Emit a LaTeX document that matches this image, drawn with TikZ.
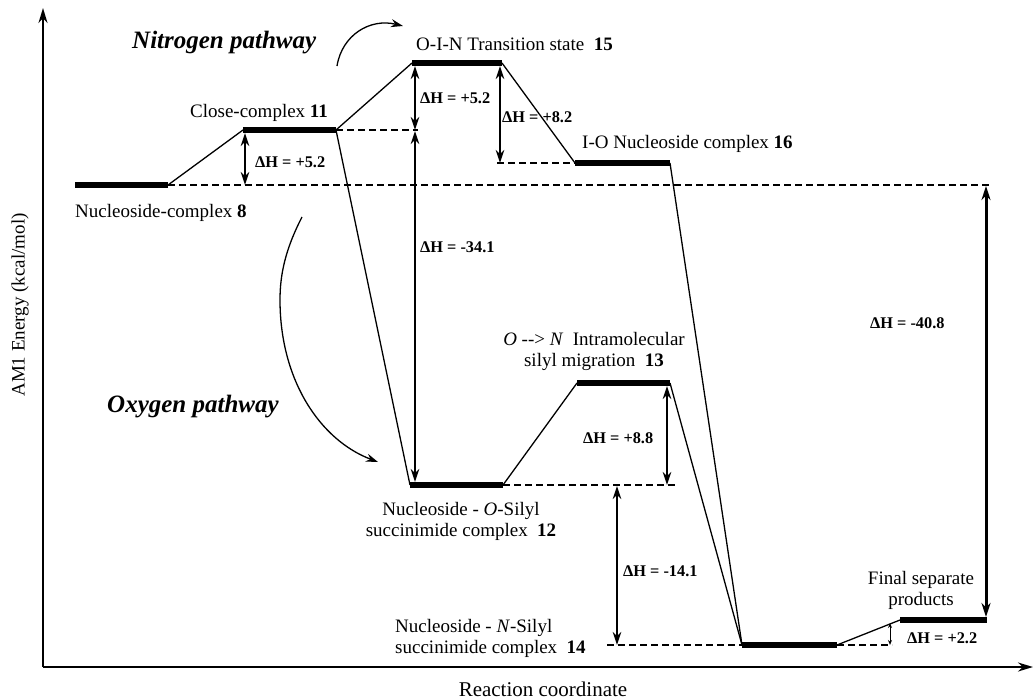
\documentclass[tikz,border=0pt]{standalone}
\usepackage{fontspec}
\setmainfont{Liberation Serif}
\usetikzlibrary{arrows.meta}
\begin{document}
\begin{tikzpicture}[x=1pt,y=-1pt,
 level/.style={line width=6pt},
 link/.style={line width=1.3pt},
 guide/.style={dash pattern=on 7pt off 4pt, line width=1.1pt},
 dh/.style={line width=1.9pt, {Stealth[length=13pt,width=8.5pt]}-{Stealth[length=13pt,width=8.5pt]}},
 dhbig/.style={line width=3pt, {Stealth[length=14pt,width=9pt]}-{Stealth[length=14pt,width=9pt]}},
 dhsmall/.style={line width=1pt, {Stealth[open,length=5pt,width=4pt]}-{Stealth[open,length=5pt,width=4pt]}},
 lbl/.style={font=\fontsize{19}{21}\selectfont, inner sep=0pt},
 dhl/.style={font=\fontsize{16.3}{18}\selectfont\bfseries, inner sep=0pt, anchor=west},
 pathlbl/.style={font=\fontsize{25}{28}\selectfont\bfseries\itshape, inner sep=0pt, anchor=base west},
 axis/.style={line width=2pt, -{Stealth[length=15pt,width=9pt]}},
 curv/.style={line width=1.3pt, -{Stealth[length=12pt,width=8pt]}},
]
\useasboundingbox (0,0) rectangle (1033,699);

% axes
\coordinate (O) at (43,667);
\coordinate (ytop) at (43,8);
\coordinate (xend) at (1033,667);
\draw[axis] (O) -- (ytop);
\draw[axis] (O) -- (xend);
\node[lbl, rotate=90] (ylab) at (20,305) {AM1 Energy (kcal/mol)};
\node[lbl, font=\fontsize{21}{23}\selectfont, anchor=base] (xlab) at (543,696) {Reaction coordinate};

% level coordinates
\coordinate (a8) at (75,185);  \coordinate (b8) at (168,185);
\coordinate (a11) at (243,130); \coordinate (b11) at (336,130);
\coordinate (a15) at (412,63);  \coordinate (b15) at (502,63);
\coordinate (a16) at (575,163); \coordinate (b16) at (670,163);
\coordinate (a12) at (410,485); \coordinate (b12) at (503,485);
\coordinate (a13) at (577,383); \coordinate (b13) at (670,383);
\coordinate (a14) at (742,645); \coordinate (b14) at (837,645);
\coordinate (aF) at (900,620);  \coordinate (bF) at (987,620);

% links
\draw[link] (b8) -- (a11);
\draw[link] (b11) -- (a15);
\draw[link] (b15) -- (a16);
\draw[link] (b16) -- (a14);
\draw[link] (b11) -- (a12);
\draw[link] (b12) -- (a13);
\draw[link] (b13) -- (a14);
\draw[link] (b14) -- (aF);

% levels
\draw[level] (a8) -- (b8);
\draw[level] (a11) -- (b11);
\draw[level] (a15) -- (b15);
\draw[level] (a16) -- (b16);
\draw[level] (a12) -- (b12);
\draw[level] (a13) -- (b13);
\draw[level] (a14) -- (b14);
\draw[level] (aF) -- (bF);

% dashed guides
\coordinate (g8) at (990,185);
\coordinate (g11) at (418,130);
\coordinate (g16) at (497,163);
\coordinate (g12) at (678,485);
\coordinate (g14) at (607,645);
\coordinate (gF) at (892,645);
\draw[guide] (b8) -- (g8);
\draw[guide] (b11) -- (g11);
\draw[guide] (g16) -- (a16);
\draw[guide] (b12) -- (g12);
\draw[guide] (g14) -- (a14);
\draw[guide] (b14) -- (gF);

% enthalpy arrows
\coordinate (d1a) at (245,133); \coordinate (d1b) at (245,185);
\coordinate (d2a) at (415,66);  \coordinate (d2b) at (415,130);
\coordinate (d3a) at (415,131); \coordinate (d3b) at (415,482);
\coordinate (d4a) at (500,66);  \coordinate (d4b) at (500,163);
\coordinate (d5a) at (667,386); \coordinate (d5b) at (667,485);
\coordinate (d6a) at (617,486); \coordinate (d6b) at (617,645);
\coordinate (d7a) at (986,186); \coordinate (d7b) at (986,617);
\coordinate (d8a) at (890,623); \coordinate (d8b) at (890,645);
\draw[dh] (d1a) -- (d1b);
\draw[dh] (d2a) -- (d2b);
\draw[dh] (d3a) -- (d3b);
\draw[dh] (d4a) -- (d4b);
\draw[dh] (d5a) -- (d5b);
\draw[dh] (d6a) -- (d6b);
\draw[dhbig] (d7a) -- (d7b);
\draw[dhsmall] (d8a) -- (d8b);

\node[dhl] (h1) at (255,162) {ΔH = +5.2};
\node[dhl] (h2) at (420,98) {ΔH = +5.2};
\node[dhl] (h3) at (420,247) {ΔH = -34.1};
\node[dhl] (h4) at (502,117) {ΔH = +8.2};
\node[dhl] (h5) at (583,438) {ΔH = +8.8};
\node[dhl] (h6) at (623,571) {ΔH = -14.1};
\node[dhl] (h7) at (870,323) {ΔH = -40.8};
\node[dhl] (h8) at (907,638) {ΔH = +2.2};

% state labels
\node[lbl, anchor=base west] (t8) at (75,217) {Nucleoside-complex \textbf{8}};
\node[lbl, anchor=base west] (t11) at (190,117) {Close-complex \textbf{11}};
\node[lbl, anchor=base west] (t15) at (416,50) {O-I-N Transition state\ \ \textbf{15}};
\node[lbl, anchor=base west] (t16) at (582,148) {I-O Nucleoside complex \textbf{16}};
\node[lbl, align=center] (t13) at (594,351) {\textit{O} -{}-> \textit{N}\ \ Intramolecular\\silyl migration\ \ \textbf{13}};
\node[lbl, align=center] (t12) at (461,521) {Nucleoside - \textit{O}-Silyl\\succinimide complex\ \ \textbf{12}};
\node[lbl, align=left, anchor=west] (t14) at (395,638) {Nucleoside - \textit{N}-Silyl\\succinimide complex\ \ \textbf{14}};
\node[lbl, align=center] (tF) at (921,590) {Final separate\\products};

% pathway labels
\node[pathlbl] (np) at (132,48) {Nitrogen pathway};
\node[pathlbl] (op) at (107,412) {Oxygen pathway};

% curved arrows
\coordinate (n1) at (337,66); \coordinate (n2) at (403,26);
\draw[curv] (n1) .. controls (342,35) and (370,18) .. (n2);
\coordinate (o1) at (302,217); \coordinate (o2) at (280,300); \coordinate (o3) at (378,462);
\draw[curv] (o1) .. controls (285,250) and (280,275) .. (o2) .. controls (280,380) and (320,440) .. (o3);
\end{tikzpicture}
\end{document}
